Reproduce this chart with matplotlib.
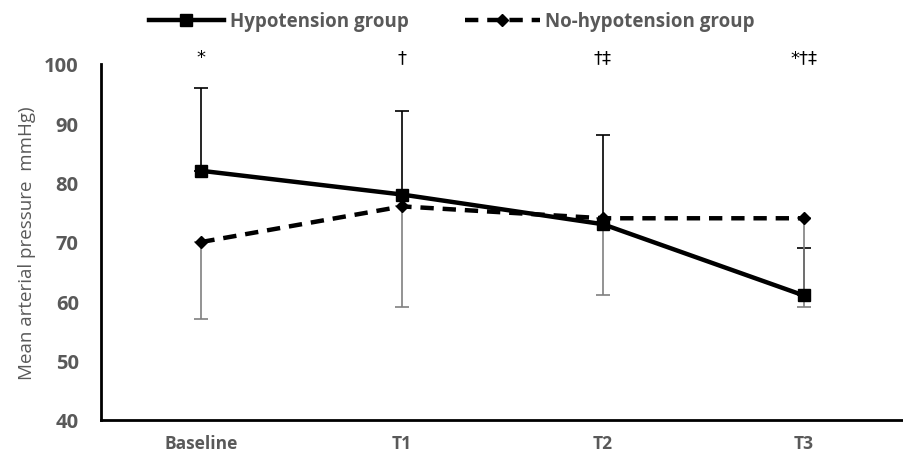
import matplotlib.pyplot as plt
import numpy as np

# data
categories = ["Baseline", "T1", "T2", "T3"]
hypo_mean = [82, 78, 73, 61]
hypo_upper = [96, 92, 88, 69]
nohypo_mean = [70, 76, 74, 74]
nohypo_lower = [57, 59, 61, 59]
marks = ["*", "\u2020", "\u2020\u2021", "*\u2020\u2021"]

plt.rcParams['font.family'] = ['Open Sans', 'DejaVu Sans']
grey = "#595959"

fig = plt.figure(figsize=(9.04, 4.56), dpi=100)
ax = fig.add_axes([101 / 904, 1 - 421 / 456, 1 - 101 / 904, (421 - 65) / 456])

x = np.arange(len(categories))
hypo_err = [np.zeros(4), np.array(hypo_upper) - np.array(hypo_mean)]
nohypo_err = [np.array(nohypo_mean) - np.array(nohypo_lower), np.zeros(4)]

ax.errorbar(x, hypo_mean, yerr=hypo_err, fmt='none', ecolor='black',
            elinewidth=1.2, capsize=5, capthick=1.2, zorder=2)
ax.errorbar(x, nohypo_mean, yerr=nohypo_err, fmt='none', ecolor='#808080',
            elinewidth=1.2, capsize=5, capthick=1.2, zorder=2)

ax.plot(x, hypo_mean, color='black', lw=3.2, marker='s', markersize=8,
        label="Hypotension group", zorder=3)
ax.plot(x, nohypo_mean, color='black', lw=3.2, ls=(0, (3, 2)), marker='D',
        markersize=6, label="No-hypotension group", zorder=3)

for xi, m in zip(x, marks):
    ax.text(xi, 101.2, m, ha='center', va='center', fontsize=13,
            family=['DejaVu Sans'], clip_on=False)

ax.set_xlim(-0.5, 3.5)
ax.set_ylim(40, 100)
ax.set_yticks(range(40, 101, 10))
ax.set_xticks(x)
ax.set_xticklabels(categories)
for lab in ax.get_xticklabels() + ax.get_yticklabels():
    lab.set_fontweight('bold')
    lab.set_color(grey)
ax.tick_params(axis='y', length=0, labelsize=14.5, pad=16)
ax.tick_params(axis='x', length=0, labelsize=12.5, pad=10)

for s in ['top', 'right']:
    ax.spines[s].set_visible(False)
ax.spines['left'].set_linewidth(2)
ax.spines['bottom'].set_linewidth(2)

ax.set_ylabel("Mean arterial pressure  mmHg)", fontsize=13.5, color=grey, labelpad=6)

leg = fig.legend(loc='upper center', bbox_to_anchor=(0.5, 1.01), ncol=2,
                 frameon=False, fontsize=13.5, handlelength=4, columnspacing=3,
                 handletextpad=0.3)
for t in leg.get_texts():
    t.set_color(grey)
    t.set_fontweight('bold')

fig.savefig("out.png", dpi=100)
